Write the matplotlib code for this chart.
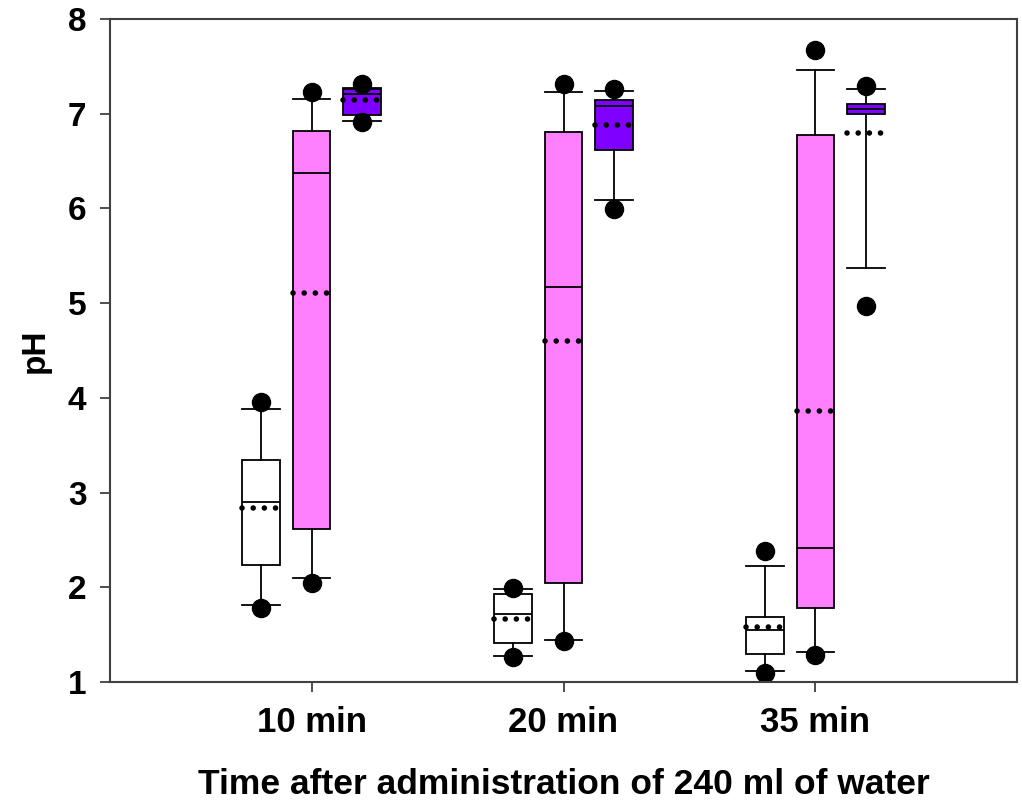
import matplotlib
matplotlib.use("Agg")
import matplotlib.pyplot as plt

plt.rcParams['font.family'] = ['Liberation Sans', 'DejaVu Sans']
plt.rcParams['font.weight'] = 'bold'

# time points (categories)
groups = ["10 min", "20 min", "35 min"]

# white boxes
white_whislo = [1.81, 1.27, 1.12]
white_q1 = [2.24, 1.41, 1.30]
white_med = [2.90, 1.72, 1.55]
white_q3 = [3.34, 1.93, 1.69]
white_whishi = [3.88, 1.98, 2.23]
white_mean = [2.84, 1.67, 1.58]
white_low = [1.78, 1.26, 1.10]
white_high = [3.96, 1.99, 2.38]

# pink boxes
pink_whislo = [2.10, 1.44, 1.32]
pink_q1 = [2.62, 2.05, 1.78]
pink_med = [6.37, 5.17, 2.41]
pink_q3 = [6.82, 6.81, 6.78]
pink_whishi = [7.16, 7.23, 7.46]
pink_mean = [5.11, 4.60, 3.86]
pink_low = [2.05, 1.43, 1.28]
pink_high = [7.23, 7.31, 7.67]

# purple boxes
purple_whislo = [6.92, 6.09, 5.37]
purple_q1 = [6.99, 6.62, 7.00]
purple_med = [7.21, 7.08, 7.05]
purple_q3 = [7.26, 7.15, 7.10]
purple_whishi = [7.27, 7.24, 7.26]
purple_mean = [7.14, 6.88, 6.80]
purple_low = [6.91, 5.99, 4.97]
purple_high = [7.31, 7.26, 7.29]


def make_stats(whislo, q1, med, q3, whishi, mean, low, high):
    stats = []
    for i in range(len(med)):
        stats.append({
            'whislo': whislo[i], 'q1': q1[i], 'med': med[i], 'q3': q3[i],
            'whishi': whishi[i], 'mean': mean[i], 'fliers': [low[i], high[i]],
        })
    return stats


series = [
    (make_stats(white_whislo, white_q1, white_med, white_q3, white_whishi,
                white_mean, white_low, white_high), 'white', -0.2),
    (make_stats(pink_whislo, pink_q1, pink_med, pink_q3, pink_whishi,
                pink_mean, pink_low, pink_high), '#FF80FF', 0.0),
    (make_stats(purple_whislo, purple_q1, purple_med, purple_q3, purple_whishi,
                purple_mean, purple_low, purple_high), '#8000FF', 0.2),
]

fig = plt.figure(figsize=(10.22, 8.09), dpi=100)
ax = fig.add_axes([110 / 1022, 1 - 682 / 809, (1017 - 110) / 1022, (682 - 19) / 809])

width = 0.15
for stats, color, offset in series:
    pos = [i + 1 + offset for i in range(len(groups))]
    ax.bxp(stats, positions=pos, widths=width, capwidths=width,
           patch_artist=True, showmeans=True, meanline=True, showfliers=True,
           boxprops=dict(facecolor=color, edgecolor='black', linewidth=1.3),
           medianprops=dict(color='black', linewidth=1.3),
           whiskerprops=dict(color='black', linewidth=1.3),
           capprops=dict(color='black', linewidth=1.3),
           meanprops=dict(color='black', linewidth=4, linestyle=(0, (0.01, 2.0)),
                          dash_capstyle='round'),
           flierprops=dict(marker='o', markerfacecolor='black',
                           markeredgecolor='black', markersize=13))

ax.set_xlim(0.2, 3.8)
ax.set_ylim(1, 8)
ax.set_xticks([1, 2, 3])
ax.set_xticklabels(groups)
ax.set_yticks(range(1, 9))

for sp in ax.spines.values():
    sp.set_color('#404040')
    sp.set_linewidth(1.5)

ax.tick_params(axis='both', direction='out', length=7, width=1.3, color='#404040')
ax.tick_params(axis='x', labelsize=25, pad=10)
ax.tick_params(axis='y', labelsize=24, pad=10)

ax.set_xlabel("Time after administration of 240 ml of water", fontsize=25.5,
              fontweight='bold', labelpad=21)
ax.set_ylabel("pH", fontsize=24, fontweight='bold', labelpad=12)

fig.savefig("out.png", dpi=100)
